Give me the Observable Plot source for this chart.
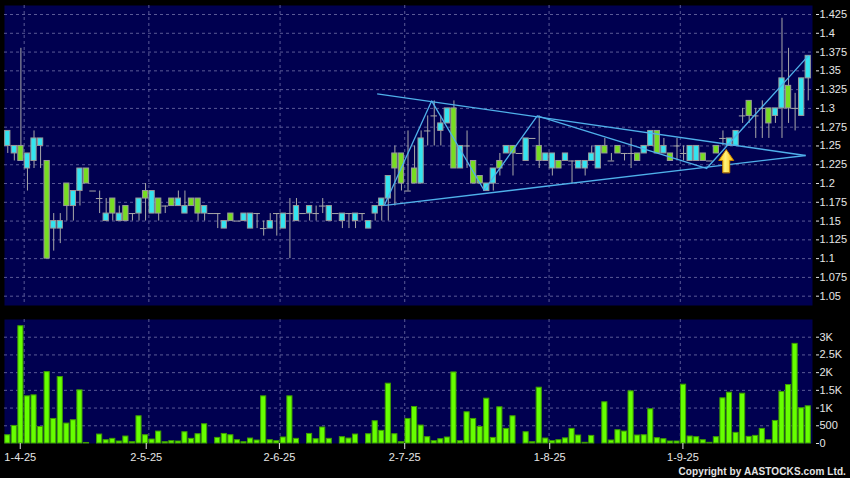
<!DOCTYPE html>
<html><head><meta charset="utf-8">
<script src="https://cdn.jsdelivr.net/npm/d3@7"></script>
<script src="https://cdn.jsdelivr.net/npm/@observablehq/plot@0.6"></script>
<style>
html,body{margin:0;padding:0;background:#000;}
#wrap{position:relative;width:850px;height:478px;background:#000;overflow:hidden;}
#price{position:absolute;left:0;top:0;}
#vol{position:absolute;left:0;top:310px;}
#copy{position:absolute;right:4px;top:466px;line-height:12px;color:#e4e4e4;font:bold 10px "Liberation Sans",Arial,sans-serif;white-space:nowrap;letter-spacing:0.1px;}
</style></head><body>
<div id="wrap"><div id="price"></div><div id="vol"></div><div id="copy">Copyright by AASTOCKS.com Ltd.</div></div>
<script>
// ---- data (daily candles, index 0 = 28-3-25) ----
const open  = [1.25,1.24,1.25,1.22,1.23,1.25,1.23,1.14,1.14,1.20,1.17,1.19,1.22,1.19,1.18,1.15,1.18,1.15,1.17,1.16,
               1.16,1.19,1.16,1.18,1.17,1.18,1.17,1.16,1.18,1.18,1.16,1.16,1.16,1.14,1.16,1.15,1.15,1.14,1.16,1.14,
               1.14,1.16,1.14,1.16,1.15,1.16,1.16,1.16,1.17,1.15,1.16,1.15,1.16,1.15,1.16,1.14,1.16,1.17,1.18,1.24,
               1.24,1.19,1.22,1.20,1.27,1.29,1.27,1.28,1.30,1.22,1.25,1.23,1.21,1.19,1.20,1.23,1.24,1.25,1.24,1.23,
               1.26,1.25,1.23,1.22,1.23,1.23,1.23,1.22,1.22,1.23,1.22,1.25,1.23,1.25,1.24,1.24,1.24,1.24,1.25,1.27,
               1.24,1.24,1.25,1.24,1.23,1.23,1.24,1.23,1.25,1.26,1.25,1.25,1.29,1.31,1.29,1.30,1.30,1.29,1.30,1.33,
               1.30,1.29,1.34];
const high  = [1.27,1.25,1.38,1.24,1.27,1.26,1.23,1.16,1.16,1.20,1.19,1.22,1.22,1.19,1.19,1.18,1.18,1.17,1.17,1.16,
               1.18,1.20,1.19,1.18,1.17,1.18,1.19,1.19,1.18,1.18,1.17,1.16,1.16,1.15,1.16,1.15,1.16,1.16,1.16,1.15,
               1.16,1.16,1.16,1.18,1.18,1.16,1.17,1.17,1.18,1.17,1.16,1.16,1.16,1.16,1.16,1.15,1.17,1.18,1.21,1.25,
               1.24,1.27,1.25,1.27,1.29,1.31,1.29,1.30,1.31,1.25,1.27,1.23,1.21,1.20,1.22,1.24,1.25,1.25,1.24,1.26,
               1.26,1.29,1.24,1.24,1.23,1.24,1.23,1.23,1.23,1.25,1.25,1.26,1.24,1.25,1.24,1.26,1.24,1.25,1.27,1.27,
               1.26,1.24,1.26,1.25,1.25,1.25,1.24,1.23,1.25,1.27,1.26,1.27,1.30,1.31,1.30,1.31,1.30,1.30,1.42,1.38,
               1.32,1.34,1.37];
const low   = [1.24,1.23,1.23,1.19,1.22,1.22,1.10,1.11,1.12,1.15,1.15,1.17,1.20,1.19,1.16,1.15,1.15,1.15,1.15,1.15,
               1.15,1.15,1.16,1.15,1.16,1.17,1.17,1.16,1.17,1.15,1.15,1.16,1.14,1.14,1.15,1.15,1.15,1.14,1.14,1.13,
               1.14,1.13,1.14,1.10,1.15,1.16,1.15,1.15,1.16,1.15,1.16,1.14,1.14,1.14,1.15,1.14,1.15,1.15,1.15,1.17,
               1.19,1.19,1.20,1.20,1.25,1.25,1.25,1.28,1.22,1.22,1.22,1.20,1.20,1.19,1.19,1.21,1.24,1.21,1.24,1.23,
               1.26,1.22,1.23,1.21,1.22,1.23,1.20,1.22,1.21,1.23,1.22,1.24,1.23,1.24,1.23,1.22,1.23,1.24,1.25,1.24,
               1.24,1.23,1.23,1.23,1.23,1.23,1.23,1.23,1.24,1.25,1.25,1.25,1.28,1.28,1.26,1.26,1.26,1.28,1.26,1.28,
               1.27,1.29,1.31];
const close = [1.27,1.25,1.23,1.24,1.26,1.26,1.10,1.15,1.15,1.17,1.19,1.22,1.20,1.19,1.18,1.16,1.16,1.16,1.15,1.16,
               1.18,1.18,1.19,1.16,1.17,1.17,1.18,1.17,1.17,1.16,1.17,1.16,1.16,1.15,1.15,1.15,1.16,1.16,1.16,1.14,
               1.15,1.16,1.16,1.16,1.17,1.16,1.17,1.16,1.17,1.17,1.16,1.16,1.16,1.16,1.16,1.15,1.17,1.18,1.21,1.22,
               1.20,1.19,1.20,1.26,1.27,1.29,1.28,1.30,1.22,1.25,1.25,1.20,1.20,1.20,1.22,1.22,1.25,1.24,1.24,1.26,
               1.26,1.23,1.24,1.24,1.22,1.24,1.23,1.23,1.23,1.24,1.25,1.24,1.23,1.24,1.24,1.24,1.23,1.25,1.27,1.24,
               1.25,1.23,1.25,1.24,1.25,1.25,1.23,1.23,1.24,1.26,1.26,1.27,1.29,1.29,1.29,1.30,1.28,1.30,1.34,1.30,
               1.30,1.34,1.37];
const volume = [233,496,3310,1331,1359,467,2015,693,1875,562,656,1500,15,0,253,93,131,56,197,37,
                768,233,112,337,37,65,56,318,131,262,543,0,158,270,233,93,37,140,84,1331,
                93,65,169,1331,131,0,270,121,451,131,0,178,140,253,0,262,628,356,1688,262,
                37,693,1031,506,178,65,121,169,2006,65,881,693,467,1265,158,1022,412,768,0,318,
                37,1575,140,65,93,145,412,225,20,215,0,1163,84,375,337,1472,225,233,966,150,
                121,56,56,1660,197,178,93,20,178,1275,1435,300,1406,187,215,412,93,637,1453,1650,
                2812,994,1050];

// zigzag indicator and triangle trend lines (index, price)
const zigzagIdx   = [57.4, 64.6, 72.6, 80.7, 106.5, 122.0];
const zigzagPrice = [1.171, 1.310, 1.191, 1.290, 1.220, 1.370];
const trendLines = [
  {x1: 56.3, y1: 1.3194, x2: 121.6, y2: 1.2373},
  {x1: 57.5, y1: 1.171,  x2: 121.6, y2: 1.2373}
];
const arrowAt = [{i: 109.5, p: 1.2147}];

// axes
const priceTicks = [1.425,1.4,1.375,1.35,1.325,1.3,1.275,1.25,1.225,1.2,1.175,1.15,1.125,1.1,1.075,1.05];
const volTicks = [0,500,1000,1500,2000,2500,3000];
const volTickLabels = ["0","500","1K","1.5K","2K","2.5K","3K"];
const dateTickIdx = [1.9, 21.1, 41.4, 60.5, 82.6, 102.9];
const dateGridIdx = [2.5, 21.5, 41.5, 60.5, 82.5, 102.5];
const dateLabels = ["1-4-25","2-5-25","2-6-25","2-7-25","1-8-25","1-9-25"];

// ---- styles ----
const navy = "#000050";
const gridStyle = {stroke: "#5a5a96", strokeDasharray: "3,3", strokeWidth: 1};
const upColor = "#33e4f0", downColor = "#77dd22", edgeColor = "#9a9a9a", wickColor = "#a8a8a8";
const lineColor = "#4fb0ea";
const font = "'Liberation Sans', Arial, sans-serif";
const xDomain = [-0.5, 122.65];

const candles = open.map((o, i) => ({i, o, h: high[i], l: low[i], c: close[i]}));
const bodies = candles.filter(d => d.o !== d.c);
const dojis = candles.filter(d => d.o === d.c);
const zigzag = zigzagIdx.map((x, k) => ({x, y: zigzagPrice[k]}));
const vols = volume.map((v, i) => ({i, v}));

const blockArrow = {
  draw(context, l) {
    const hw = 7.5, sw = 3.5, hh = 11;
    context.moveTo(-sw, 0);
    context.lineTo(-sw, -(l - hh));
    context.lineTo(-hw, -(l - hh));
    context.lineTo(0, -l);
    context.lineTo(hw, -(l - hh));
    context.lineTo(sw, -(l - hh));
    context.lineTo(sw, 0);
    context.closePath();
  }
};
const gradDefs = () => {
  const defs = d3.create("svg:defs");
  const g = defs.append("linearGradient").attr("id", "arrowGrad").attr("x1", 0).attr("y1", 0).attr("x2", 1).attr("y2", 0);
  g.append("stop").attr("offset", "0%").attr("stop-color", "#ffc400");
  g.append("stop").attr("offset", "45%").attr("stop-color", "#fff27a");
  g.append("stop").attr("offset", "100%").attr("stop-color", "#ffbf00");
  return defs.node();
};

const baseStyle = {background: "transparent", color: "#e6e6e6", fontSize: "11px", fontFamily: font, overflow: "visible"};

const priceChart = Plot.plot({
  width: 850, height: 310,
  marginTop: 5, marginBottom: 5, marginLeft: 4, marginRight: 38,
  style: baseStyle,
  x: {domain: xDomain, axis: null},
  y: {domain: [1.0376, 1.437]},
  marks: [
    gradDefs,
    Plot.frame({fill: navy, stroke: null}),
    Plot.ruleY(priceTicks, gridStyle),
    Plot.ruleX(dateGridIdx, gridStyle),
    Plot.axisY({anchor: "right", ticks: priceTicks, tickSize: 3, tickPadding: 1, dx: 3, tickFormat: d => String(d), label: null}),
    Plot.ruleX(candles, {x: "i", y1: "l", y2: "h", stroke: wickColor, strokeWidth: 1}),
    Plot.rect(bodies, {x1: d => d.i - 0.4, x2: d => d.i + 0.4, y1: "o", y2: "c",
      fill: d => d.c > d.o ? upColor : downColor, stroke: edgeColor, strokeWidth: 1}),
    Plot.ruleY(dojis, {y: "o", x1: d => d.i - 0.5, x2: d => d.i + 0.5, stroke: wickColor, strokeWidth: 1}),
    Plot.link(trendLines, {x1: "x1", y1: "y1", x2: "x2", y2: "y2", stroke: lineColor, strokeWidth: 1.3}),
    Plot.line(zigzag, {x: "x", y: "y", stroke: lineColor, strokeWidth: 1.3}),
    Plot.vector(arrowAt, {x: "i", y: "p", length: 23, anchor: "start", shape: blockArrow,
      fill: "url(#arrowGrad)", stroke: "#c98500", strokeWidth: 1})
  ]
});

const volChart = Plot.plot({
  width: 850, height: 168,
  marginTop: 9, marginBottom: 35, marginLeft: 4, marginRight: 38,
  style: baseStyle,
  x: {domain: xDomain},
  y: {domain: [0, 3500]},
  marks: [
    Plot.frame({fill: navy, stroke: null}),
    Plot.ruleY(volTicks.filter(v => v > 0), gridStyle),
    Plot.ruleX(dateGridIdx, gridStyle),
    Plot.rect(vols, {x1: d => d.i - 0.39, x2: d => d.i + 0.39, y1: 0, y2: "v",
      fill: "#66ff00", stroke: "#3f9f00", strokeWidth: 1}),
    Plot.axisY({anchor: "right", ticks: volTicks, tickSize: 3, tickPadding: 1, dx: 3,
      tickFormat: d => volTickLabels[volTicks.indexOf(d)], label: null}),
    Plot.axisX({anchor: "bottom", ticks: dateTickIdx, tickSize: 6, tickPadding: 4,
      tickFormat: d => dateLabels[dateTickIdx.indexOf(d)], label: null})
  ]
});

document.getElementById("price").appendChild(priceChart);
document.getElementById("vol").appendChild(volChart);
</script>
</body></html>
